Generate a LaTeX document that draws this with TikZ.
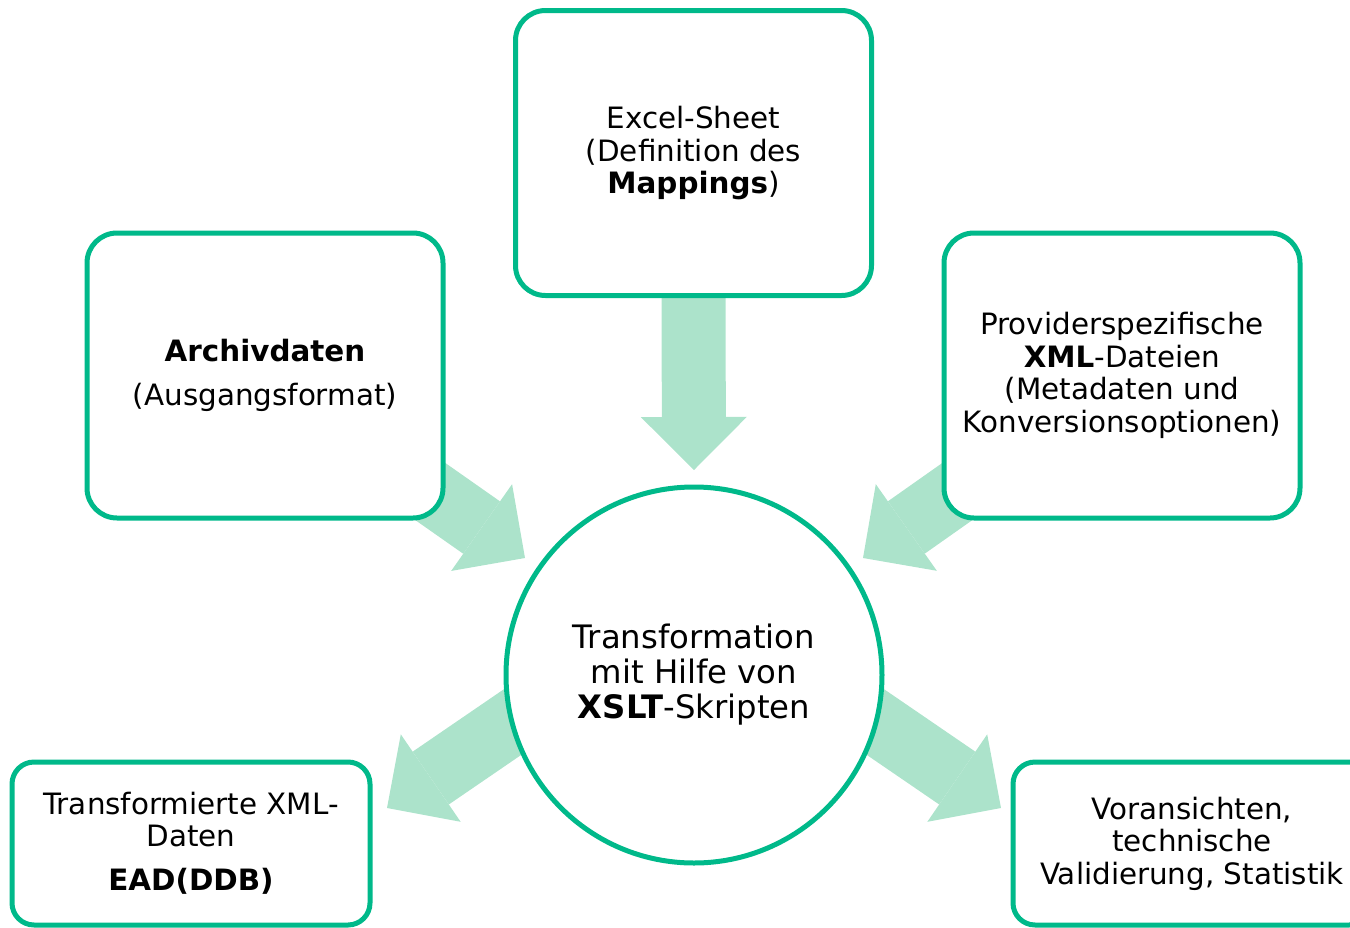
\documentclass[tikz,border=0pt]{standalone}
\usepackage{fontspec}
\setmainfont{DejaVu Sans}
\usetikzlibrary{arrows.meta, backgrounds}
\definecolor{rahmengruen}{RGB}{0,185,138}
\definecolor{pfeilgruen}{RGB}{172,227,203}

\begin{document}
\begin{tikzpicture}[x=1pt,y=-1pt,
    kasten/.style={draw=rahmengruen, line width=5pt, fill=white, rounded corners=30pt,
      minimum width=356pt, minimum height=285pt, inner sep=0pt, align=center,
      font=\fontsize{29.4}{32.5}\selectfont},
    kleinkasten/.style={kasten, rounded corners=22pt, minimum width=358pt, minimum height=163pt},
    pfeil/.style={draw=pfeilgruen, line width=64pt,
      -{Triangle[width=106pt, length=53pt, line width=0pt]}}]
    \useasboundingbox (0,0) rectangle (1350,927);
    \clip (0,0) rectangle (1350,927);

    \node[kasten] (excel) at (693.5,153) {Excel-Sheet\\(Definition des\\\textbf{Mappings})};
    \node[kasten] (archiv) at (265,375.5) {\textbf{Archivdaten}\\[11.5pt](Ausgangsformat)};
    \node[kasten] (provider) at (1122,375.5) {Providerspezifische\\\textbf{XML}-Dateien\\(Metadaten und\\Konversionsoptionen)};
    \node[circle, draw=rahmengruen, line width=5pt, fill=white, minimum size=376pt, inner sep=0pt,
      align=center, font=\fontsize{32.3}{35}\selectfont] (trafo) at (694,675)
      {Transformation\\mit Hilfe von\\\textbf{XSLT}-Skripten};
    \node[kleinkasten] (xmldaten) at (191,843.5) {Transformierte XML-\\Daten\\[11.5pt]\textbf{EAD(DDB)}};
    \node[kleinkasten] (voransicht) at (1192,843.5) {Voransichten,\\technische\\Validierung, Statistik};

    \coordinate (spitzeE) at (694,470);%上の矢印の先
    \coordinate (spitzeA) at (525,558);
    \coordinate (spitzeP) at (863,558);
    \coordinate (fussX) at (593,667);%円の中から
    \coordinate (spitzeX) at (387,808);
    \coordinate (fussV) at (795,667);
    \coordinate (spitzeV) at (1001,808);
    \begin{scope}[on background layer]
    \foreach\A/\B in{excel.south/spitzeE, archiv.center/spitzeA, provider.center/spitzeP, fussX/spitzeX, fussV/spitzeV}
      \draw[pfeil](\A)--(\B);
    \end{scope}
\end{tikzpicture}
\end{document}
